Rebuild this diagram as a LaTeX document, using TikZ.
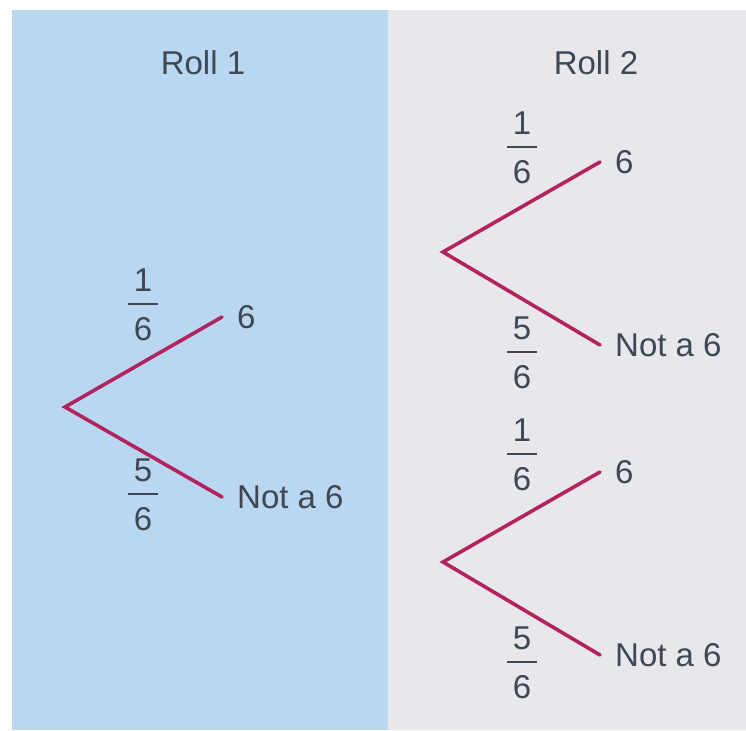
\documentclass[tikz,border=0pt]{standalone}
\usepackage{amsmath}
\usepackage{fontspec}
\setmainfont{Liberation Sans}

\definecolor{rollblue}{HTML}{BAD7F1}
\definecolor{rollgrey}{HTML}{E8E8EC}
\definecolor{branchred}{HTML}{B3245E}
\definecolor{inkgrey}{HTML}{3E4853}

% probability written as a stacked fraction
\newcommand{\prob}[2]{$\genfrac{}{}{1.6pt}{0}%
    {\text{\,#1\,}\rule[-7pt]{0pt}{7pt}}{\rule{0pt}{31pt}\text{\,#2\,}}$}

\begin{document}
\begin{tikzpicture}[x=1pt,y=-1pt,
    branch/.style={line width=3.6pt,color=branchred,line cap=round},
    every node/.style={text=inkgrey,font=\fontsize{33}{38}\selectfont},
    leaf/.style={anchor=west,inner xsep=15pt,inner ysep=2pt}]
    \useasboundingbox (0,0) rectangle (746,730);
    % Background panels
    \fill[white] (0,0) rectangle (746,730);
    \fill[rollblue] (12,10) rectangle (388,730);
    \fill[rollgrey] (388,10) rectangle (746,730);
    % Column headings
    \node (roll1) at (203,63) {Roll 1};
    \node (roll2) at (596,63) {Roll 2};
    % First roll
    \coordinate (a) at (65,407);
    \node[leaf] (a6) at (222,317) {6};
    \node[leaf] (an) at (222,497) {Not a 6};
    \draw[branch] (a6.west) -- (a) -- (an.west);
    \node (pa6) at (143,305) {\prob{1}{6}};
    \node (pan) at (143,495) {\prob{5}{6}};
    % Second roll after a 6
    \coordinate (b) at (443,252);
    \node[leaf] (b6) at (600,162) {6};
    \node[leaf] (bn) at (600,345) {Not a 6};
    \draw[branch] (b6.west) -- (b) -- (bn.west);
    \node (pb6) at (522,148) {\prob{1}{6}};
    \node (pbn) at (522,353) {\prob{5}{6}};
    % Second roll after not a 6
    \coordinate (c) at (443,562);
    \node[leaf] (c6) at (600,472) {6};
    \node[leaf] (cn) at (600,655) {Not a 6};
    \draw[branch] (c6.west) -- (c) -- (cn.west);
    \node (pc6) at (522,455) {\prob{1}{6}};
    \node (pcn) at (522,663) {\prob{5}{6}};
\end{tikzpicture}
\end{document}
